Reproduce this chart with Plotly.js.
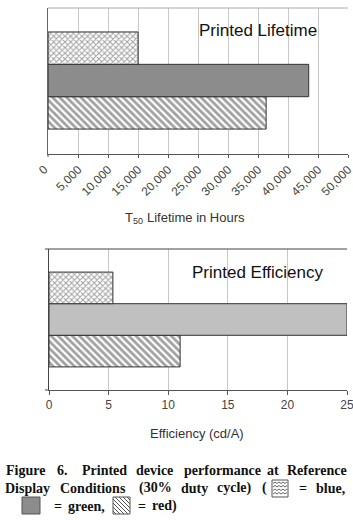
<!DOCTYPE html>
<html><head><meta charset="utf-8">
<script src="https://cdn.plot.ly/plotly-3.0.1.min.js"></script>
<style>html,body{margin:0;padding:0;background:#fff}#chart{width:353px;height:520px}</style>
</head><body><div id="chart"></div>
<script>
// ---- data ----
const colorCategories = ['red', 'green', 'blue'];          // bottom-to-top bar order
const lifetimeHours = [36350, 43450, 15000];                // T50 lifetime (hours)
const efficiencyCdA = [11.0, 25.0, 5.36];                   // efficiency (cd/A)
const lifetimeTickVals = [0, 5000, 10000, 15000, 20000, 25000, 30000, 35000, 40000, 45000, 50000];
const lifetimeTickText = ['0', '5,000', '10,000', '15,000', '20,000', '25,000', '30,000', '35,000', '40,000', '45,000', '50,000'];
const efficiencyTickVals = [0, 5, 10, 15, 20, 25];
const efficiencyTickText = ['0', '5', '10', '15', '20', '25'];
const chartTitles = ['Printed Lifetime', 'Printed Efficiency'];
const lifetimeAxisTitle = ['T', '50', 'Lifetime in Hours'];
const efficiencyAxisTitle = 'Efficiency (cd/A)';

// ---- helpers ----
const W = 353, H = 520;
const px = x => x / W;
const py = y => 1 - y / H;
const sansFont = 'Liberation Sans, Arial, sans-serif';
const serifFont = 'Liberation Serif, Times New Roman, serif';

function barTrace(values, xa, ya, greenColor) {
  return {
    type: 'bar', orientation: 'h', y: colorCategories, x: values, xaxis: xa, yaxis: ya,
    marker: {
      color: ['#ffffff', greenColor, '#ffffff'],
      line: {color: '#333', width: 1},
      pattern: {shape: ['\\', '', 'x'], fillmode: 'overlay', fgcolor: '#333', size: [5, 6, 4], solidity: [0.55, 0.3, 0.45]}
    },
    hoverinfo: 'skip', showlegend: false
  };
}
const traces = [
  barTrace(lifetimeHours, 'x', 'y', '#8c8c8c'),
  barTrace(efficiencyCdA, 'x2', 'y2', '#c0c0c0')
];
const tickFont = {family: sansFont, size: 12, color: '#444'};

// ---- annotations ----
function note(text, x, y, font, xanchor) {
  return {text: text, x: px(x), y: py(y), xref: 'paper', yref: 'paper',
    xanchor: xanchor || 'left', yanchor: 'middle', showarrow: false, font: font};
}
const captionFont = {family: serifFont, size: 14, color: '#111', weight: 'bold'};
const captionLines = [
  {y: 470, words: [['Figure', 4], ['6.', 55], ['Printed', 80], ['device', 134], ['performance', 182], ['at', 265], ['Reference', 285]]},
  {y: 488, words: [['Display', 3], ['Conditions', 58], ['(30%', 137], ['duty', 179], ['cycle)', 215], ['(', 260], ['=', 297], ['blue,', 314]]},
  {y: 506, words: [['=', 52], ['green,', 66], ['=', 136], ['red)', 150]]}
];
const annotations = [];
captionLines.forEach(line => line.words.forEach(([w, x]) => {
  annotations.push(note('<b>' + w + '</b>', x, line.y, captionFont));
}));
const titleFont = {family: sansFont, size: 17, color: '#111'};
const axTitleFont = {family: sansFont, size: 13, color: '#333'};
annotations.push(
  note(chartTitles[0], 258, 30, titleFont, 'center'),
  note(chartTitles[1], 258, 272, titleFont, 'center'),
  note(lifetimeAxisTitle[0], 123, 217, axTitleFont),
  note(lifetimeAxisTitle[1], 131, 221, {family: sansFont, size: 9, color: '#333'}),
  note(lifetimeAxisTitle[2], 145, 217, axTitleFont),
  note(efficiencyAxisTitle, 197, 433, axTitleFont, 'center'),
  // first lifetime tick label, placed on the x scale at its tick value
  {text: lifetimeTickText[0], x: lifetimeTickVals[0], xref: 'x', y: py(170), yref: 'paper', xshift: -5,
   xanchor: 'center', yanchor: 'middle', textangle: -45, showarrow: false, font: tickFont}
);

// ---- decorations: plot borders and caption legend keys (rect + line shapes only) ----
function line(x0, y0, x1, y1, color) {
  return {type: 'line', xref: 'paper', yref: 'paper', x0: px(x0), y0: py(y0), x1: px(x1), y1: py(y1),
    line: {color: color, width: 1}};
}
function rectShape(x0, y0, x1, y1, fill) {
  return {type: 'rect', xref: 'paper', yref: 'paper', x0: px(x0), x1: px(x1), y0: py(y1), y1: py(y0),
    fillcolor: fill, line: {color: '#555', width: 1}};
}
const shapes = [
  line(48, 8, 348, 8, '#aaa'),
  line(45, 249, 347, 249, '#444'),
  line(45, 390, 49, 390, '#444'),
  line(48, 154, 48, 157, '#555'),
  rectShape(272, 480, 288, 497, '#ffffff'),
  rectShape(22, 497, 40, 514, '#8c8c8c'),
  rectShape(113, 497, 130, 514, '#ffffff')
];
// blue key: zigzag rows
for (let yy = 483.5; yy < 496; yy += 3.5) {
  for (let xx = 273; xx < 287; xx += 2) {
    const up = ((xx - 273) / 2) % 2 === 0;
    shapes.push(line(xx, up ? yy : yy - 1.5, xx + 2, up ? yy - 1.5 : yy, '#666'));
  }
}
// red key: diagonal strands
{
  const x0 = 113, y0 = 497, s = 17;
  for (let c = -s + 3; c < s; c += 4) {
    const ya = Math.max(0, -c), yb = Math.min(s, s - c);
    if (yb - ya < 1) continue;
    shapes.push(line(x0 + ya + c, y0 + ya, x0 + yb + c, y0 + yb, '#555'));
  }
}

const layout = {
  width: W, height: H,
  margin: {l: 0, r: 0, t: 0, b: 0},
  paper_bgcolor: '#fff', plot_bgcolor: '#fff',
  barmode: 'group', bargap: 0, showlegend: false,
  xaxis: {domain: [px(48), px(348)], range: [-20, 50000], anchor: 'y',
    tickmode: 'array', tickvals: lifetimeTickVals.slice(1), ticktext: lifetimeTickText.slice(1), tickangle: -45, ticklabeloverflow: 'allow',
    ticks: 'outside', ticklen: 3, tickcolor: '#555', showline: true, linecolor: '#555', linewidth: 1,
    showgrid: true, gridcolor: '#c8c8c8', gridwidth: 1, zeroline: false, tickfont: tickFont, fixedrange: true},
  yaxis: {domain: [py(154), py(8)], range: [-1.27, 3.24], anchor: 'x', type: 'category',
    showticklabels: false, ticks: '', showline: true, linecolor: '#666', showgrid: false, zeroline: false, fixedrange: true},
  xaxis2: {domain: [px(49), px(347)], range: [0, 25], anchor: 'y2',
    tickmode: 'array', tickvals: efficiencyTickVals, ticktext: efficiencyTickText, ticklabeloverflow: 'allow',
    ticks: 'outside', ticklen: 4, tickcolor: '#555', showline: true, linecolor: '#555', linewidth: 1,
    showgrid: true, gridcolor: '#c8c8c8', gridwidth: 1, zeroline: false, tickfont: tickFont, fixedrange: true},
  yaxis2: {domain: [py(390), py(249)], range: [-1.23, 3.23], anchor: 'x2', type: 'category',
    showticklabels: false, ticks: '', showline: true, linecolor: '#444', showgrid: false, zeroline: false, fixedrange: true},
  annotations: annotations,
  shapes: shapes
};

Plotly.newPlot('chart', traces, layout, {displayModeBar: false, staticPlot: true});
</script>
</body></html>
